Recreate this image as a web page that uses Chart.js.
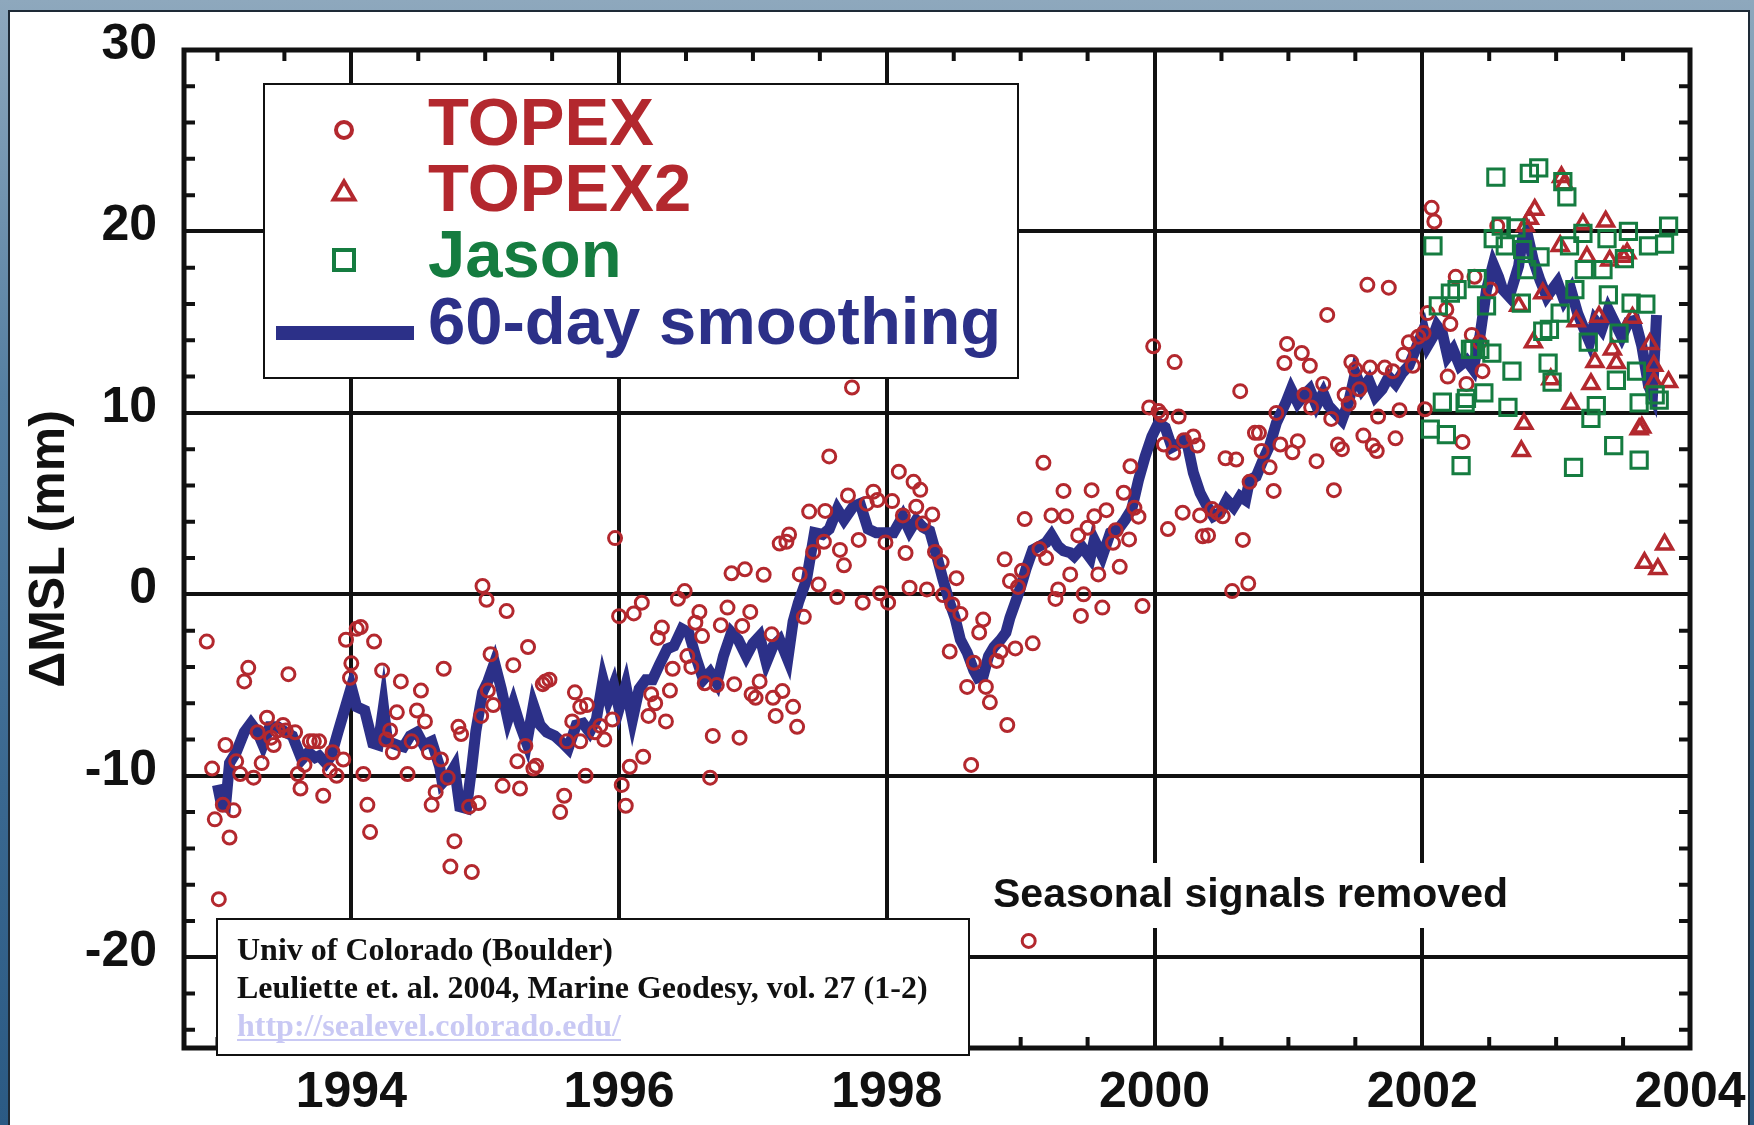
<!DOCTYPE html>
<html>
<head>
<meta charset="utf-8">
<script src="https://cdn.jsdelivr.net/npm/chart.js@4.4.0/dist/chart.umd.min.js"></script>
<style>
  html, body { margin: 0; padding: 0; width: 1754px; height: 1125px; overflow: hidden; }
  body { background: linear-gradient(180deg, #8ea8bd 0%, #557fa2 35%, #3a6890 70%, #2b5a84 100%); position: relative; }
  #panel { position: absolute; left: 8px; top: 10px; width: 1742px; height: 1200px; box-sizing: border-box;
           background: #fff; border: 2px solid #1e2a36; }
  #wrap { position: absolute; left: 0; top: 0; width: 1754px; height: 1125px; }
</style>
</head>
<body>
<div id="panel"></div>
<div id="wrap"><canvas id="msl-chart"></canvas></div>
<script>
// Global mean sea level change, TOPEX / Jason altimetry, seasonal signals removed
// values: [year, delta MSL in mm]

const topex = [
  [1992.92,-2.6],[1992.96,-9.6],[1992.98,-12.4],[1993.01,-16.8],[1993.04,-11.6],[1993.06,-8.3],[1993.09,-13.4],
  [1993.12,-11.9],[1993.14,-9.2],[1993.17,-9.9],[1993.20,-4.8],[1993.23,-4.05],[1993.27,-10.1],[1993.30,-7.6],
  [1993.33,-9.3],[1993.37,-6.8],[1993.40,-7.9],[1993.42,-8.3],[1993.45,-7.5],[1993.49,-7.2],[1993.51,-7.5],
  [1993.53,-4.4],[1993.58,-7.6],[1993.60,-9.9],[1993.62,-10.7],[1993.65,-9.4],[1993.69,-8.1],[1993.72,-8.1],
  [1993.76,-8.1],[1993.79,-11.1],[1993.84,-9.7],[1993.86,-8.7],[1993.89,-10.0],[1993.94,-9.1],[1993.96,-2.5],
  [1993.99,-4.6],[1994.00,-3.8],[1994.04,-1.9],[1994.07,-1.8],[1994.09,-9.9],[1994.12,-11.6],[1994.14,-13.1],
  [1994.17,-2.6],[1994.23,-4.2],[1994.26,-8.0],[1994.29,-7.5],[1994.31,-8.7],[1994.34,-6.5],[1994.37,-4.8],
  [1994.42,-9.9],[1994.45,-8.1],[1994.49,-6.4],[1994.52,-5.3],[1994.55,-7.0],[1994.58,-8.7],[1994.60,-11.6],
  [1994.63,-10.9],[1994.67,-9.1],[1994.69,-4.1],[1994.72,-10.1],[1994.74,-15.0],[1994.77,-13.6],[1994.80,-7.3],
  [1994.82,-7.7],[1994.88,-11.7],[1994.90,-15.3],[1994.95,-11.5],[1994.97,-6.7],[1994.98,0.46],[1995.01,-0.3],
  [1995.02,-5.3],[1995.04,-3.3],[1995.06,-6.1],
  [1995.13,-10.55],[1995.16,-0.92],[1995.21,-3.9],[1995.24,-9.2],[1995.26,-10.7],[1995.30,-8.35],[1995.32,-2.9],
  [1995.36,-9.6],[1995.38,-9.45],[1995.43,-4.95],[1995.45,-4.8],[1995.48,-4.7],[1995.56,-12.0],[1995.59,-11.1],
  [1995.61,-8.1],[1995.65,-7.0],[1995.67,-5.4],[1995.71,-6.2],[1995.71,-8.1],[1995.75,-10.0],[1995.76,-6.1],
  [1995.82,-7.6],[1995.86,-7.25],[1995.89,-8.0],[1995.95,-6.9],[1995.97,3.1],[1996.00,-1.2],[1996.02,-10.5],
  [1996.05,-11.65],[1996.08,-9.5],[1996.11,-1.05],[1996.17,-0.46],[1996.18,-8.95],[1996.22,-6.7],[1996.24,-5.5],
  [1996.27,-6.0],[1996.29,-2.4],[1996.32,-1.83],[1996.35,-7.0],[1996.38,-5.3],[1996.40,-4.1],[1996.44,-0.24],
  [1996.49,0.18],[1996.51,-3.4],[1996.54,-4.0],[1996.57,-1.56],[1996.60,-0.97],[1996.62,-2.3],[1996.64,-4.9],
  [1996.68,-10.1],[1996.70,-7.8],[1996.73,-5.0],[1996.76,-1.7],[1996.81,-0.73],[1996.84,1.16],[1996.86,-4.95],
  [1996.90,-7.9],[1996.92,-1.74],[1996.94,1.38],[1996.98,-0.97],[1996.99,-5.5],[1997.02,-5.7],[1997.05,-4.8],
  [1997.08,1.08],[1997.14,-2.2],[1997.15,-5.7],[1997.17,-6.7],[1997.20,2.8],
  [1997.22,-5.33],[1997.25,2.9],[1997.27,3.3],[1997.30,-6.2],[1997.33,-7.3],[1997.35,1.1],[1997.38,-1.24],
  [1997.42,4.56],[1997.45,2.34],[1997.49,0.54],[1997.53,2.9],[1997.54,4.6],[1997.57,7.6],[1997.63,-0.15],
  [1997.65,2.45],[1997.68,1.6],[1997.71,5.45],[1997.74,11.4],[1997.79,3.0],[1997.82,-0.46],[1997.85,5.0],
  [1997.90,5.66],[1997.93,5.2],[1997.95,0.06],[1997.99,2.86],[1998.01,-0.46],[1998.04,5.14],[1998.09,6.76],
  [1998.12,4.35],[1998.14,2.28],[1998.17,0.37],[1998.20,6.2],[1998.22,4.83],[1998.25,5.76],[1998.27,3.9],
  [1998.30,0.27],[1998.34,4.4],[1998.36,2.34],[1998.41,1.78],[1998.42,-0.04],[1998.47,-3.15],[1998.49,-0.56],
  [1998.52,0.89],[1998.55,-1.08],[1998.60,-5.1],[1998.63,-9.4],[1998.65,-3.77],[1998.69,-2.1],[1998.72,-1.39],
  [1998.74,-5.1],[1998.77,-5.95],[1998.82,-3.67],[1998.85,-3.15],[1998.88,1.93],[1998.90,-7.2],[1998.92,0.73],
  [1998.96,-2.98],[1998.98,0.41],[1999.01,1.3],[1999.03,4.15],[1999.06,-19.1],[1999.09,-2.7],[1999.14,2.5],
  [1999.17,7.25],[1999.19,2.0],[1999.23,4.35],[1999.26,-0.25],[1999.28,0.27],[1999.32,5.7],[1999.34,4.3],
  [1999.37,1.1],
  [1999.43,3.25],[1999.45,-1.19],[1999.47,0.0],[1999.50,3.67],[1999.53,5.74],[1999.55,4.3],[1999.58,1.1],
  [1999.61,-0.73],[1999.64,4.64],[1999.69,2.84],[1999.71,3.54],[1999.74,1.52],[1999.77,5.6],[1999.81,3.03],
  [1999.82,7.06],[1999.85,4.77],[1999.88,4.28],[1999.91,-0.64],[1999.96,10.3],[1999.99,13.67],[2000.03,10.1],
  [2000.05,9.9],[2000.07,8.26],[2000.10,3.6],[2000.14,7.8],[2000.15,12.8],[2000.18,9.8],[2000.21,4.5],
  [2000.22,8.5],[2000.29,8.7],[2000.32,8.2],[2000.34,4.35],[2000.36,3.2],[2000.40,3.25],[2000.43,4.7],
  [2000.47,4.5],[2000.51,4.3],[2000.53,7.5],[2000.58,0.18],[2000.61,7.43],[2000.64,11.2],[2000.66,3.0],
  [2000.70,0.6],[2000.71,6.2],[2000.75,8.9],[2000.78,8.9],[2000.80,7.9],[2000.86,7.0],[2000.89,5.7],
  [2000.91,10.0],[2000.94,8.26],[2000.97,12.75],[2000.99,13.8],[2001.03,7.83],[2001.07,8.44],[2001.10,13.3],
  [2001.12,11.0],[2001.16,12.6],[2001.17,10.3],[2001.21,7.34],[2001.26,11.6],[2001.29,15.4],[2001.32,9.67],
  [2001.34,5.74],[2001.37,8.26],[2001.40,8.0],[2001.42,11.0],[2001.45,10.5],[2001.47,12.8],[2001.50,12.4],
  [2001.53,11.3],[2001.56,8.75],[2001.59,17.06],[2001.61,12.5],[2001.63,8.2],[2001.67,9.8],
  [2001.66,7.9],[2001.72,12.5],[2001.75,16.9],[2001.78,12.3],[2001.80,8.6],[2001.83,10.15],[2001.86,13.2],
  [2001.90,13.9],[2001.93,12.6],[2001.97,14.2],[2002.01,14.4],[2002.02,10.2],[2002.04,15.5],[2002.07,21.3],
  [2002.09,20.55],[2002.18,15.7],[2002.19,12.0],[2002.21,14.9],[2002.25,17.5],[2002.30,8.4],[2002.33,11.6],
  [2002.37,14.3],[2002.39,17.5],[2002.43,13.9],[2002.45,12.3],[2002.51,16.8],[2002.56,20.3]
];

const topex2 = [
  [2002.72,15.9],[2002.74,7.9],[2002.76,9.4],[2002.77,20.3],[2002.80,20.7],[2002.83,13.9],[2002.84,21.2],
  [2002.90,16.6],[2002.96,11.85],[2003.03,19.2],[2003.04,23.0],[2003.06,22.6],[2003.11,10.5],[2003.15,15.05],
  [2003.20,20.4],[2003.23,18.6],[2003.26,11.6],[2003.29,12.8],[2003.32,15.3],[2003.37,20.55],[2003.40,18.4],
  [2003.42,13.5],[2003.45,12.75],[2003.50,18.6],[2003.53,18.8],[2003.57,15.25],[2003.62,9.1],[2003.64,9.2],
  [2003.66,1.74],[2003.70,13.8],[2003.73,12.6],[2003.73,11.7],[2003.76,1.4],[2003.81,2.75],[2003.84,11.7]
];

const jason = [
  [2002.06,9.1],[2002.08,19.2],[2002.12,15.9],[2002.15,10.6],[2002.18,8.8],[2002.21,16.6],[2002.26,16.8],
  [2002.29,7.1],[2002.32,10.55],[2002.33,10.8],[2002.36,13.5],[2002.38,13.5],[2002.41,17.4],[2002.43,13.5],
  [2002.46,11.1],[2002.48,15.9],[2002.52,13.3],[2002.53,19.6],[2002.55,23.0],[2002.59,20.3],[2002.62,19.2],
  [2002.64,10.3],[2002.67,12.3],[2002.70,20.2],[2002.74,16.05],[2002.75,19.0],[2002.78,17.9],[2002.80,23.2],
  [2002.87,23.5],[2002.88,18.6],[2002.90,14.5],[2002.94,12.75],[2002.95,14.6],[2002.97,11.7],[2003.03,15.5],
  [2003.05,22.75],[2003.08,21.9],[2003.10,19.2],[2003.13,7.0],[2003.14,16.8],[2003.20,19.9],[2003.21,17.9],
  [2003.24,13.9],[2003.26,9.7],[2003.30,10.4],[2003.35,17.9],[2003.38,19.6],[2003.39,16.5],[2003.43,8.2],
  [2003.45,11.8],[2003.47,14.4],[2003.51,18.5],[2003.54,20.0],[2003.56,16.05],[2003.60,12.3],[2003.62,10.55],
  [2003.62,7.4],[2003.67,16.0],[2003.69,19.2],[2003.74,11.0],[2003.77,10.7],[2003.81,19.3],[2003.84,20.3]
];

const smoothing = [
  [1993.00,-10.5],[1993.03,-11.6],[1993.06,-11.7],[1993.09,-9.3],[1993.14,-8.7],[1993.20,-7.6],[1993.25,-7.1],
  [1993.30,-7.6],[1993.34,-8.3],[1993.39,-7.3],[1993.45,-7.3],[1993.51,-7.6],[1993.56,-7.8],[1993.63,-9.1],
  [1993.68,-8.7],[1993.73,-9.0],[1993.76,-8.9],[1993.81,-9.3],[1993.85,-8.9],[1993.90,-7.6],[1993.95,-6.35],
  [1994.00,-5.1],[1994.04,-6.2],[1994.10,-6.4],[1994.16,-8.2],[1994.20,-8.3],[1994.24,-6.2],[1994.27,-8.1],
  [1994.34,-8.3],[1994.39,-8.4],[1994.44,-7.8],[1994.49,-7.6],[1994.54,-8.3],[1994.60,-8.1],[1994.66,-9.5],
  [1994.68,-10.4],[1994.73,-10.0],[1994.77,-9.5],[1994.81,-11.7],[1994.86,-11.8],[1994.90,-9.5],[1994.93,-7.55],
  [1994.98,-5.4],[1995.02,-4.8],[1995.07,-3.76],[1995.12,-5.2],[1995.17,-6.9],[1995.21,-6.0],[1995.26,-7.2],
  [1995.31,-8.2],[1995.36,-6.1],[1995.41,-7.2],[1995.46,-7.6],[1995.52,-7.8],[1995.58,-8.2],[1995.62,-8.5],
  [1995.68,-7.2],[1995.73,-7.1],[1995.78,-7.6],[1995.83,-6.9],[1995.88,-4.7],[1995.92,-5.8],[1995.96,-5.0],
  [1996.00,-6.3],[1996.05,-5.0],[1996.10,-6.9],[1996.15,-5.2],[1996.20,-4.7],[1996.25,-4.7],[1996.30,-3.9],
  [1996.36,-3.0],[1996.41,-2.85],[1996.47,-1.9],[1996.52,-2.1],[1996.58,-3.6],[1996.63,-4.7],[1996.68,-4.3],
  [1996.73,-4.9],[1996.78,-3.4],[1996.84,-2.1],[1996.89,-2.5],[1996.95,-3.4],[1997.00,-2.7],[1997.05,-2.3],
  [1997.10,-3.76],[1997.15,-2.85],[1997.20,-2.5],[1997.26,-3.6],[1997.30,-1.5],[1997.34,-0.45],[1997.40,0.8],
  [1997.46,3.4],[1997.52,3.3],[1997.57,3.6],[1997.63,4.7],[1997.68,4.1],[1997.75,4.85],[1997.80,5.0],
  [1997.86,3.6],[1997.92,3.4],[1997.99,3.4],[1998.05,3.4],[1998.12,4.3],[1998.17,3.5],[1998.22,4.1],
  [1998.27,3.7],[1998.32,3.5],[1998.37,2.2],[1998.42,0.8],[1998.47,-0.46],[1998.51,-1.3],[1998.55,-2.5],
  [1998.60,-3.2],[1998.65,-4.2],[1998.68,-4.6],[1998.72,-4.5],[1998.76,-3.4],[1998.80,-2.9],[1998.85,-2.5],
  [1998.89,-2.1],[1998.92,-1.28],[1998.96,-0.46],[1999.00,0.4],[1999.04,1.4],[1999.09,2.45],[1999.14,2.65],
  [1999.19,2.86],[1999.23,3.27],[1999.28,2.65],[1999.32,2.4],[1999.37,2.3],[1999.40,2.1],[1999.46,2.6],
  [1999.52,2.0],[1999.55,3.0],[1999.61,2.1],[1999.67,3.4],[1999.73,3.6],[1999.78,4.1],[1999.83,4.7],
  [1999.88,6.3],[1999.93,7.6],[1999.98,8.7],[2000.03,9.45],[2000.08,9.2],[2000.13,8.1],[2000.18,8.3],
  [2000.22,8.5],[2000.25,8.1],[2000.29,6.7],[2000.34,5.6],[2000.39,4.9],[2000.44,4.3],[2000.49,4.5],
  [2000.54,5.2],[2000.59,4.8],[2000.64,5.4],[2000.68,5.2],[2000.71,6.3],[2000.76,6.5],[2000.81,7.4],
  [2000.86,8.2],[2000.91,9.45],[2000.98,10.55],[2001.02,11.3],[2001.07,10.55],[2001.12,11.0],[2001.16,11.3],
  [2001.21,10.4],[2001.26,11.1],[2001.30,10.4],[2001.35,10.0],[2001.40,9.6],[2001.45,10.6],[2001.50,12.2],
  [2001.55,11.3],[2001.60,11.8],[2001.65,10.9],[2001.70,11.3],[2001.75,12.0],[2001.80,11.6],[2001.85,12.2],
  [2001.90,12.6],[2001.95,13.5],[2002.01,14.6],[2002.04,13.7],[2002.08,14.2],[2002.11,14.8],[2002.15,14.4],
  [2002.19,13.1],[2002.23,13.5],[2002.28,12.6],[2002.33,12.9],[2002.38,12.4],[2002.43,14.2],[2002.48,16.8],
  [2002.53,18.2],[2002.57,17.5],[2002.60,16.8],[2002.65,16.4],[2002.72,18.1],[2002.75,19.7],[2002.78,20.0],
  [2002.83,18.4],[2002.88,17.3],[2002.93,16.4],[2002.97,16.8],[2003.01,17.2],[2003.06,16.2],[2003.11,16.8],
  [2003.16,15.5],[2003.21,14.6],[2003.25,13.9],[2003.29,15.1],[2003.34,14.6],[2003.39,15.7],[2003.45,14.8],
  [2003.49,14.2],[2003.54,15.0],[2003.59,15.1],[2003.64,13.7],[2003.69,11.5],[2003.72,11.0],[2003.75,15.4]
];

// axis ticks: every half year / every 2 mm, labels on the majors
const xTicks = [1993,1993.5,1994,1994.5,1995,1995.5,1996,1996.5,1997,1997.5,1998,1998.5,
                1999,1999.5,2000,2000.5,2001,2001.5,2002,2002.5,2003,2003.5,2004];
const xLabels = [1994,1996,1998,2000,2002,2004];
const yTicks = [-24,-22,-20,-18,-16,-14,-12,-10,-8,-6,-4,-2,0,2,4,6,8,10,12,14,16,18,20,22,24,26,28,30];
const yLabels = [-20,-10,0,10,20,30];

const RED = '#b3282e';
const GREEN = '#157c40';
const NAVY = '#2c3088';
const INK = '#111111';
const SANS = "'Liberation Sans', Arial, Helvetica, sans-serif";
const SERIF = "'Liberation Serif', 'Times New Roman', serif";

const toXY = arr => arr.map(([x, y]) => ({x, y}));

function marker(ctx, style, x, y, r, lw, color) {
  ctx.save();
  ctx.strokeStyle = color;
  ctx.lineWidth = lw;
  ctx.beginPath();
  if (style === 'circle') {
    ctx.arc(x, y, r, 0, Math.PI * 2);
  } else if (style === 'triangle') {
    for (let i = 0; i < 3; i++) {
      const a = -Math.PI / 2 + i * 2 * Math.PI / 3;
      const px = x + r * Math.cos(a), py = y + r * Math.sin(a) + r * 0.2;
      i ? ctx.lineTo(px, py) : ctx.moveTo(px, py);
    }
    ctx.closePath();
  } else {
    ctx.rect(x - r, y - r, 2 * r, 2 * r);
  }
  ctx.stroke();
  ctx.restore();
}

const decorations = {
  id: 'decorations',
  afterDraw(chart) {
    const {ctx, chartArea: a, scales: {x, y}} = chart;
    ctx.save();

    // inward minor ticks on all four sides
    ctx.strokeStyle = INK;
    ctx.lineWidth = 4;
    ctx.beginPath();
    xTicks.forEach(v => {
      if (v % 2 === 0) return;
      const px = x.getPixelForValue(v);
      ctx.moveTo(px, a.bottom); ctx.lineTo(px, a.bottom - 11);
      ctx.moveTo(px, a.top); ctx.lineTo(px, a.top + 11);
    });
    yTicks.forEach(v => {
      if (v % 10 === 0) return;
      const py = y.getPixelForValue(v);
      ctx.moveTo(a.left, py); ctx.lineTo(a.left + 11, py);
      ctx.moveTo(a.right, py); ctx.lineTo(a.right - 11, py);
    });
    ctx.stroke();

    // plot frame
    ctx.lineWidth = 5;
    ctx.strokeRect(a.left, a.top, a.right - a.left, a.bottom - a.top);

    // note
    ctx.fillStyle = '#fff';
    ctx.fillRect(985, 863, 540, 65);
    ctx.fillStyle = INK;
    ctx.font = 'bold 41px ' + SANS;
    ctx.textBaseline = 'alphabetic';
    ctx.textAlign = 'left';
    ctx.fillText('Seasonal signals removed', 993, 907);

    // legend box
    ctx.fillStyle = '#fff';
    ctx.fillRect(264, 84, 754, 294);
    ctx.strokeStyle = INK;
    ctx.lineWidth = 2;
    ctx.strokeRect(264, 84, 754, 294);
    ctx.font = 'bold 67px ' + SANS;
    ctx.textBaseline = 'middle';
    const rows = [
      {text: 'TOPEX', color: RED, y: 127, draw: yy => marker(ctx, 'circle', 344, yy + 3, 8, 4, RED)},
      {text: 'TOPEX2', color: RED, y: 193, draw: yy => marker(ctx, 'triangle', 344, yy - 2, 12, 4, RED)},
      {text: 'Jason', color: GREEN, y: 259, draw: yy => marker(ctx, 'rect', 344, yy + 1, 10, 4, GREEN)},
      {text: '60-day smoothing', color: NAVY, y: 326, draw: yy => {
        ctx.save(); ctx.strokeStyle = NAVY; ctx.lineWidth = 14;
        ctx.beginPath(); ctx.moveTo(276, yy + 7); ctx.lineTo(414, yy + 7); ctx.stroke(); ctx.restore();
      }}
    ];
    rows.forEach(r => {
      r.draw(r.y);
      ctx.fillStyle = r.color;
      ctx.fillText(r.text, 428, r.y);
    });

    // credit box
    ctx.fillStyle = '#fff';
    ctx.fillRect(217, 919, 752, 136);
    ctx.lineWidth = 2;
    ctx.strokeStyle = INK;
    ctx.strokeRect(217, 919, 752, 136);
    ctx.font = 'bold 32px ' + SERIF;
    ctx.textBaseline = 'alphabetic';
    ctx.fillStyle = INK;
    ctx.fillText('Univ of Colorado (Boulder)', 237, 960);
    ctx.fillText('Leuliette et. al. 2004, Marine Geodesy, vol. 27 (1-2)', 237, 998);
    const link = 'http://sealevel.colorado.edu/';
    ctx.fillStyle = '#c9c9f4';
    ctx.fillText(link, 237, 1036);
    const w = ctx.measureText(link).width;
    ctx.fillRect(237, 1039, w, 2);

    ctx.restore();
  }
};

new Chart(document.getElementById('msl-chart'), {
  type: 'scatter',
  data: {
    datasets: [
      {
        label: 'Jason',
        data: toXY(jason),
        pointStyle: 'rect',
        pointRadius: 11.5,
        pointBorderWidth: 3,
        pointBorderColor: GREEN,
        pointBackgroundColor: 'rgba(0,0,0,0)',
        order: 1
      },
      {
        label: 'TOPEX2',
        data: toXY(topex2),
        pointStyle: 'triangle',
        pointRadius: 9,
        pointBorderWidth: 3.5,
        pointBorderColor: RED,
        pointBackgroundColor: 'rgba(0,0,0,0)',
        order: 2
      },
      {
        label: 'TOPEX',
        data: toXY(topex),
        pointStyle: 'circle',
        pointRadius: 6.5,
        pointBorderWidth: 3,
        pointBorderColor: RED,
        pointBackgroundColor: 'rgba(0,0,0,0)',
        order: 3
      },
      {
        label: '60-day smoothing',
        data: toXY(smoothing),
        showLine: true,
        borderColor: NAVY,
        borderWidth: 11,
        borderJoinStyle: 'miter',
        tension: 0,
        pointRadius: 0,
        order: 4
      }
    ]
  },
  options: {
    responsive: true,
    maintainAspectRatio: false,
    animation: false,
    events: [],
    layout: { padding: { top: 50, right: 64, left: 0, bottom: 0 } },
    plugins: {
      legend: { display: false },
      tooltip: { enabled: false }
    },
    scales: {
      x: {
        type: 'linear',
        min: 1992.75,
        max: 2004,
        afterBuildTicks: s => { s.ticks = xTicks.map(v => ({value: v})); },
        afterFit: s => { s.height = 77; s.paddingLeft = 0; s.paddingRight = 0; },
        border: { display: false },
        grid: {
          drawTicks: false,
          lineWidth: 4,
          color: c => (c.tick && c.tick.value % 2 === 0 && c.tick.value < 2004) ? INK : 'rgba(0,0,0,0)'
        },
        ticks: {
          autoSkip: false,
          maxRotation: 0,
          padding: 15,
          color: INK,
          font: { family: SANS, size: 50, weight: 'bold' },
          callback: v => xLabels.includes(v) ? String(v) : ''
        }
      },
      y: {
        min: -25,
        max: 30,
        afterBuildTicks: s => { s.ticks = yTicks.map(v => ({value: v})); },
        afterFit: s => { s.width = 184; s.paddingTop = 0; s.paddingBottom = 0; },
        border: { display: false },
        grid: {
          drawTicks: false,
          lineWidth: 4,
          color: c => (c.tick && c.tick.value % 10 === 0 && c.tick.value < 30) ? INK : 'rgba(0,0,0,0)'
        },
        ticks: {
          autoSkip: false,
          padding: 27,
          labelOffset: -5,
          color: INK,
          font: { family: SANS, size: 50, weight: 'bold' },
          callback: v => yLabels.includes(v) ? String(v) : ''
        },
        title: {
          display: true,
          text: 'ΔMSL (mm)',
          color: INK,
          font: { family: SANS, size: 50, weight: 'bold' },
          padding: { top: 20, bottom: 0 }
        }
      }
    }
  },
  plugins: [decorations]
});
</script>
</body>
</html>
